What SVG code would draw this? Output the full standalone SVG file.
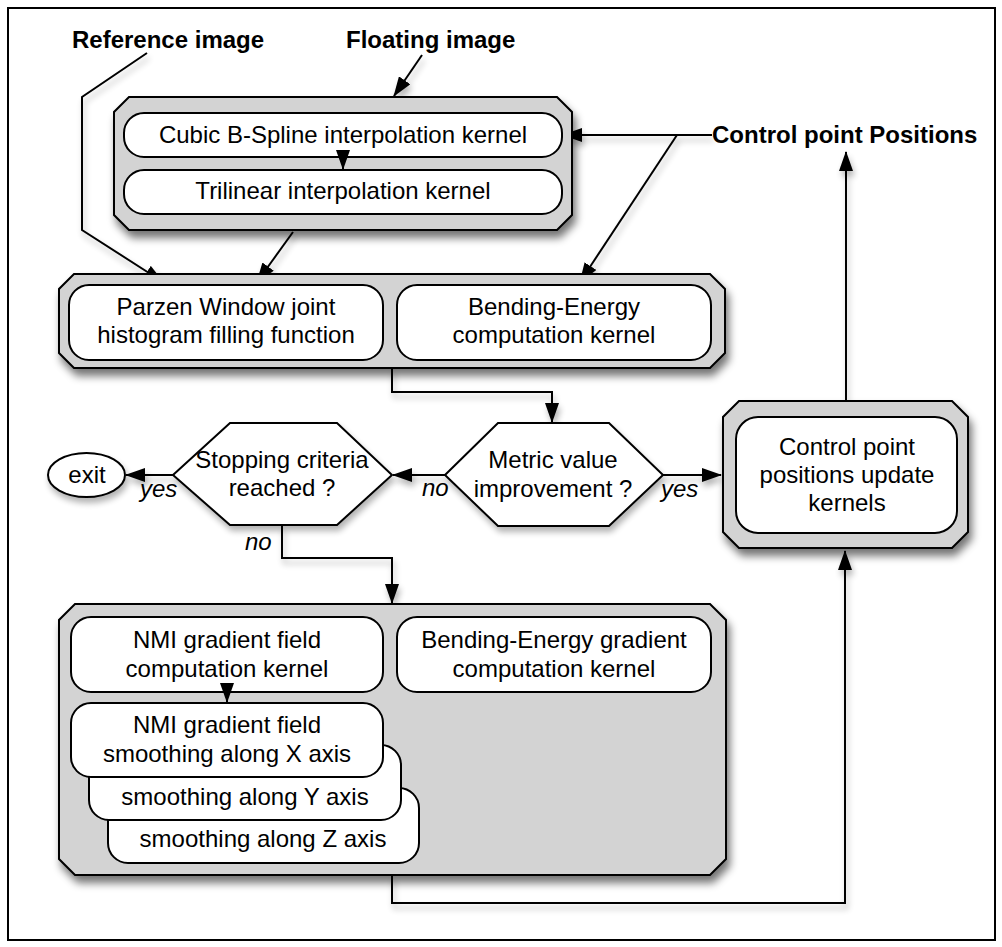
<svg xmlns="http://www.w3.org/2000/svg" width="1002" height="947" viewBox="0 0 1002 947">
<style>
text{font-family:"Liberation Sans",Arial,Helvetica,sans-serif;font-size:24px;fill:#000}
.c{text-anchor:middle}
.b{font-weight:bold}
.i{font-style:italic}
.grp{fill:#d3d3d3;stroke:#000;stroke-width:2}
.box{fill:#fff;stroke:#000;stroke-width:2}
.hex{fill:#fff;stroke:#000;stroke-width:2}
.ln{fill:none;stroke:#000;stroke-width:2;marker-end:url(#ah)}
</style>
<defs>
<marker id="ah" markerUnits="userSpaceOnUse" markerWidth="20" markerHeight="14" refX="19" refY="7" orient="auto">
<path d="M0,0 L20,7 L0,14 z" fill="#000"/>
</marker>
<filter id="sh" x="-10%" y="-10%" width="125%" height="135%">
<feGaussianBlur in="SourceAlpha" stdDeviation="4"/>
<feOffset dx="3" dy="7" result="o"/>
<feComponentTransfer><feFuncA type="linear" slope="0.55"/></feComponentTransfer>
<feMerge><feMergeNode/><feMergeNode in="SourceGraphic"/></feMerge>
</filter>
<filter id="shl" x="-20%" y="-20%" width="140%" height="160%">
<feGaussianBlur in="SourceAlpha" stdDeviation="3"/>
<feOffset dx="2" dy="5" result="o"/>
<feComponentTransfer><feFuncA type="linear" slope="0.3"/></feComponentTransfer>
<feMerge><feMergeNode/><feMergeNode in="SourceGraphic"/></feMerge>
</filter>
</defs>
<rect x="8" y="8" width="987" height="932" fill="#fff" stroke="#000" stroke-width="2"/>

<g id="connectors" filter="url(#shl)">
<polyline class="ln" points="147,53 82,97 82,230 163,282"/>
<line class="ln" x1="422" y1="55" x2="394" y2="96"/>
<line class="ln" x1="293" y1="232" x2="257" y2="282"/>
<line class="ln" x1="712" y1="135" x2="563" y2="135"/>
<line class="ln" x1="677" y1="135" x2="580" y2="282"/>
<polyline class="ln" points="392,368 392,392 552,392 552,422"/>
<line class="ln" x1="445" y1="475" x2="393" y2="475"/>
<line class="ln" x1="173" y1="475" x2="126" y2="475"/>
<polyline class="ln" points="282,525 282,558 392,558 392,603"/>
<line class="ln" x1="663" y1="475" x2="721" y2="475"/>
<line class="ln" x1="846" y1="401" x2="846" y2="152"/>
<polyline class="ln" points="392,875 392,903 845,903 845,551"/>
</g>

<g id="label-reference"><text class="b" x="72" y="48">Reference image</text></g>
<g id="label-floating"><text class="b" x="346" y="48">Floating image</text></g>
<g id="label-control"><text class="b" x="712" y="143">Control point Positions</text></g>

<g id="interp-group">
<polygon class="grp" filter="url(#sh)" points="129,97 557,97 572,112 572,215 557,230 129,230 114,215 114,112"/>
<g id="cubic"><rect class="box" x="124" y="113" width="438" height="44" rx="20"/><text class="c" x="343" y="143">Cubic B-Spline interpolation kernel</text></g>
<g id="trilinear"><rect class="box" x="124" y="170" width="438" height="44" rx="20"/><text class="c" x="343" y="199">Trilinear interpolation kernel</text></g>
<line class="ln" x1="343" y1="157" x2="343" y2="169"/>
</g>

<g id="metric-group">
<polygon class="grp" filter="url(#sh)" points="74,274 710,274 725,289 725,353 710,368 74,368 59,353 59,289"/>
<g id="parzen"><rect class="box" x="69" y="285" width="314" height="75" rx="20"/><text class="c" x="226" y="315">Parzen Window joint</text><text class="c" x="226" y="343">histogram filling function</text></g>
<g id="bending"><rect class="box" x="397" y="285" width="314" height="75" rx="20"/><text class="c" x="554" y="315">Bending-Energy</text><text class="c" x="554" y="343">computation kernel</text></g>
</g>

<g id="metric-decision">
<polygon class="hex" filter="url(#shl)" points="445,475 498,423 609,423 663,475 609,526 498,526"/>
<text class="c" x="553" y="468">Metric value</text><text class="c" x="553" y="497">improvement ?</text>
</g>

<g id="stop-decision">
<polygon class="hex" filter="url(#shl)" points="173,475 230,423 337,423 392,475 337,525 230,525"/>
<text class="c" x="282" y="468">Stopping criteria</text><text class="c" x="282" y="496">reached ?</text>
</g>

<g id="exit">
<ellipse class="hex" filter="url(#shl)" cx="86.5" cy="475" rx="38.5" ry="22"/>
<text class="c" x="87" y="483">exit</text>
</g>

<g id="labels-yesno">
<text class="i" x="140" y="497">yes</text>
<text class="i" x="422" y="496">no</text>
<text class="i" x="661" y="497">yes</text>
<text class="i" x="245" y="550">no</text>
</g>

<g id="update-group">
<polygon class="grp" filter="url(#sh)" points="739,401 952,401 968,417 968,532 952,548 739,548 723,532 723,417"/>
<g id="update"><rect class="box" x="736" y="417" width="221" height="116" rx="22"/>
<text class="c" x="847" y="455">Control point</text><text class="c" x="847" y="483">positions update</text><text class="c" x="847" y="511">kernels</text></g>
</g>

<g id="gradient-group">
<polygon class="grp" filter="url(#sh)" points="75,604 710,604 726,620 726,859 710,875 75,875 59,859 59,620"/>
<g id="be-gradient"><rect class="box" x="397" y="617" width="314" height="75" rx="20"/><text class="c" x="554" y="648">Bending-Energy gradient</text><text class="c" x="554" y="677">computation kernel</text></g>
<g id="smooth-z"><rect class="box" x="108" y="788" width="311" height="75" rx="20"/><text class="c" x="263" y="847">smoothing along Z axis</text></g>
<g id="smooth-y"><rect class="box" x="89" y="745" width="312" height="75" rx="20"/><text class="c" x="245" y="805">smoothing along Y axis</text></g>
<g id="smooth-x"><rect class="box" x="71" y="703" width="312" height="74" rx="20"/><text class="c" x="227" y="733">NMI gradient field</text><text class="c" x="227" y="762">smoothing along X axis</text></g>
<g id="nmi-gradient"><rect class="box" x="71" y="617" width="312" height="75" rx="20"/><text class="c" x="227" y="648">NMI gradient field</text><text class="c" x="227" y="677">computation kernel</text></g>
<line class="ln" x1="227" y1="692" x2="227" y2="702"/>
</g>
</svg>
